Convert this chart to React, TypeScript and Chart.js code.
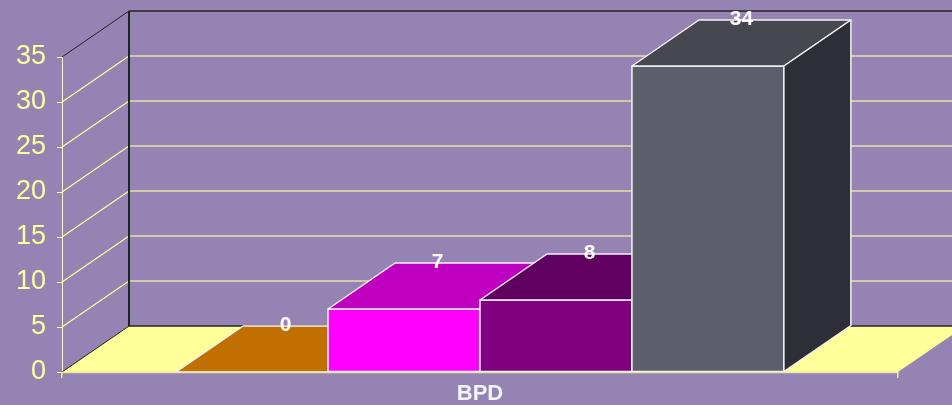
import { useEffect, useRef } from 'react';
import { Chart, registerables } from 'chart.js';

Chart.register(...registerables);

// Chart data
const categories = ['BPD'];
const seriesNames = ['Series 1', 'Series 2', 'Series 3', 'Series 4'];
const seriesValues = [0, 7, 8, 34];
const yMin = 0;
const yMax = 35;
const yStep = 5;

// Face colours for each series (front, top, right side)
const frontColors = ['#C07000', '#FF00FF', '#800080', '#5C5E6C'];
const topColors = ['#C07000', '#C000C0', '#600060', '#46474F'];
const sideColors = ['#9A5A00', '#A000A0', '#500050', '#2E2E37'];

// 3D look
const DEPTH_X = 67;
const DEPTH_Y = 46;
const BG = '#9483B3';
const FLOOR = '#FFFF99';
const AXIS_YELLOW = '#FFFF99';
const WALL_GRID = '#E6E0A4';
const EDGE_DARK = '#222222';
const EDGE_LIGHT = '#F4F4F4';
const FONT = '"Liberation Sans", Arial, Helvetica, sans-serif';

const line = (ctx: CanvasRenderingContext2D, x1: number, y1: number, x2: number, y2: number) => {
  ctx.beginPath();
  ctx.moveTo(x1, y1);
  ctx.lineTo(x2, y2);
  ctx.stroke();
};

const poly = (ctx: CanvasRenderingContext2D, pts: number[][], fill: string) => {
  ctx.beginPath();
  ctx.moveTo(pts[0][0], pts[0][1]);
  for (let i = 1; i < pts.length; i++) ctx.lineTo(pts[i][0], pts[i][1]);
  ctx.closePath();
  ctx.fillStyle = fill;
  ctx.fill();
  ctx.stroke();
};

const depthPlugin = {
  id: 'depth3d',
  beforeDatasetsDraw(chart: any) {
    const { ctx, chartArea: a, scales } = chart;
    const ys = scales.y;
    const y0 = ys.getPixelForValue(yMin);
    const yTop = ys.getPixelForValue(yMax);
    const bx = a.left + DEPTH_X;
    const farRight = a.right + DEPTH_X;
    ctx.save();

    // floor
    ctx.fillStyle = FLOOR;
    ctx.beginPath();
    ctx.moveTo(a.left, y0);
    ctx.lineTo(a.right, y0);
    ctx.lineTo(farRight, y0 - DEPTH_Y);
    ctx.lineTo(bx, y0 - DEPTH_Y);
    ctx.closePath();
    ctx.fill();

    // back wall grid lines and side wall diagonals
    for (let v = yMin + yStep; v < yMax; v += yStep) {
      const py = ys.getPixelForValue(v);
      ctx.strokeStyle = WALL_GRID;
      ctx.lineWidth = 1.5;
      line(ctx, bx, py - DEPTH_Y, farRight, py - DEPTH_Y);
      ctx.strokeStyle = AXIS_YELLOW;
      ctx.lineWidth = 1.2;
      line(ctx, a.left, py, bx, py - DEPTH_Y);
    }

    // dark frame of the walls
    ctx.strokeStyle = EDGE_DARK;
    ctx.lineWidth = 1;
    line(ctx, a.left, yTop, bx, yTop - DEPTH_Y);
    line(ctx, a.left, y0, bx, y0 - DEPTH_Y);
    ctx.lineWidth = 2;
    line(ctx, bx, yTop - DEPTH_Y, bx, y0 - DEPTH_Y);
    ctx.lineWidth = 1.5;
    line(ctx, bx, yTop - DEPTH_Y, farRight, yTop - DEPTH_Y);
    line(ctx, bx, y0 - DEPTH_Y, farRight, y0 - DEPTH_Y);
    ctx.restore();
  },
  afterDatasetsDraw(chart: any) {
    const { ctx, chartArea: a, scales } = chart;
    const ys = scales.y;
    const y0 = ys.getPixelForValue(yMin);
    ctx.save();
    ctx.lineJoin = 'round';
    ctx.strokeStyle = EDGE_LIGHT;
    ctx.lineWidth = 1.5;

    const labels: { x: number; y: number; text: string }[] = [];
    chart.data.datasets.forEach((ds: any, i: number) => {
      const meta = chart.getDatasetMeta(i);
      meta.data.forEach((el: any, j: number) => {
        const { x, y, base, width } = el.getProps(['x', 'y', 'base', 'width'], true);
        const x0 = x - width / 2;
        const x1 = x + width / 2;
        // front
        if (base - y > 0.5) {
          poly(ctx, [[x0, y], [x1, y], [x1, base], [x0, base]], frontColors[i]);
        }
        // top
        poly(ctx, [[x0, y], [x1, y], [x1 + DEPTH_X, y - DEPTH_Y], [x0 + DEPTH_X, y - DEPTH_Y]], topColors[i]);
        // right side
        if (base - y > 0.5) {
          poly(ctx, [[x1, y], [x1 + DEPTH_X, y - DEPTH_Y], [x1 + DEPTH_X, base - DEPTH_Y], [x1, base]], sideColors[i]);
        }
        labels.push({ x: x + DEPTH_X / 2, y: y - DEPTH_Y - 1, text: String(ds.data[j]) });
      });
    });

    // front edge of the floor
    ctx.strokeStyle = '#ECE6AA';
    ctx.lineWidth = 1.5;
    line(ctx, a.left, y0 + 0.5, a.right, y0 + 0.5);

    // value labels
    ctx.fillStyle = '#FFFFFF';
    ctx.font = `bold 21px ${FONT}`;
    ctx.textAlign = 'center';
    ctx.textBaseline = 'middle';
    labels.forEach((l) => ctx.fillText(l.text, l.x, l.y));
    ctx.restore();
  },
};

export default function App() {
  const canvasRef = useRef<HTMLCanvasElement | null>(null);

  useEffect(() => {
    const canvas = canvasRef.current;
    if (!canvas) return;
    const chart = new Chart(canvas, {
      type: 'bar',
      data: {
        labels: categories,
        datasets: seriesValues.map((v, i) => ({
          label: seriesNames[i],
          data: [v],
          backgroundColor: frontColors[i],
          borderWidth: 0,
        })),
      },
      options: {
        responsive: false,
        animation: false,
        layout: { padding: { left: 0, right: 54, top: 57, bottom: 0 } },
        datasets: { bar: { categoryPercentage: 0.727, barPercentage: 1 } },
        plugins: { legend: { display: false }, tooltip: { enabled: false } },
        scales: {
          x: {
            offset: true,
            afterFit: (s: any) => { s.height = 33; },
            grid: { display: true, offset: true, drawOnChartArea: false, drawTicks: true, tickLength: 6, color: '#ECE6AA', lineWidth: 1.5 },
            border: { display: false },
            ticks: { color: '#F4F4F4', font: { family: FONT, size: 22, weight: 'bold' }, padding: 3 },
          },
          y: {
            min: yMin,
            max: yMax,
            afterFit: (s: any) => { s.width = 62; },
            grid: { display: true, drawOnChartArea: false, drawTicks: true, tickLength: 5, color: AXIS_YELLOW, lineWidth: 1 },
            border: { display: true, color: AXIS_YELLOW, width: 1 },
            ticks: { stepSize: yStep, color: AXIS_YELLOW, font: { family: FONT, size: 27 }, padding: 11 },
          },
        },
      },
      plugins: [depthPlugin],
    });
    return () => chart.destroy();
  }, []);

  return (
    <div style={{ position: 'fixed', left: 0, top: 0, width: 952, height: 405, background: BG }}>
      <canvas ref={canvasRef} width={952} height={405} style={{ display: 'block' }} />
    </div>
  );
}
